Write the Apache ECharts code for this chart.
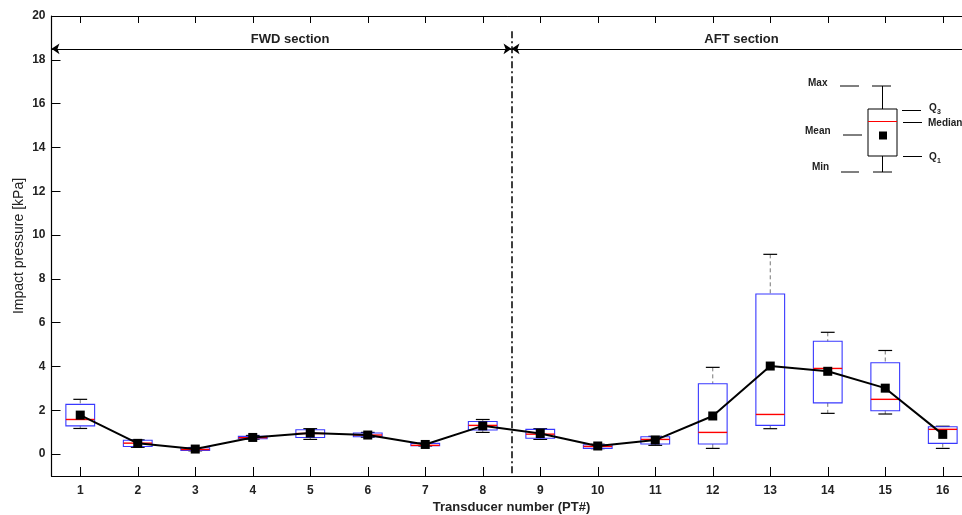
<!DOCTYPE html>
<html>
<head>
<meta charset="utf-8">
<script src="https://cdn.jsdelivr.net/npm/echarts@6/dist/echarts.min.js"></script>
<style>
  html, body { margin: 0; padding: 0; background: #fff; }
  #chart { width: 962px; height: 515px; }
</style>
</head>
<body>
<div id="chart"></div>
<script>
// Transducer positions (PT#)
const transducers = [1, 2, 3, 4, 5, 6, 7, 8, 9, 10, 11, 12, 13, 14, 15, 16];
// Impact pressure statistics per transducer [kPa]
const minVals    = [1.17, 0.31, 0.15, 0.68, 0.67, 0.77, 0.37, 0.99, 0.67, 0.25, 0.40, 0.26, 1.16, 1.86, 1.83, 0.26];
const q1Vals     = [1.29, 0.35, 0.17, 0.70, 0.76, 0.79, 0.38, 1.10, 0.72, 0.26, 0.46, 0.46, 1.31, 2.34, 1.98, 0.49];
const medianVals = [1.58, 0.50, 0.21, 0.75, 0.94, 0.87, 0.40, 1.31, 0.91, 0.35, 0.67, 0.99, 1.81, 3.91, 2.50, 1.13];
const q3Vals     = [2.27, 0.63, 0.29, 0.81, 1.11, 0.96, 0.49, 1.49, 1.13, 0.43, 0.79, 3.21, 7.31, 5.15, 4.17, 1.25];
const maxVals    = [2.50, 0.65, 0.30, 0.85, 1.16, 0.99, 0.50, 1.58, 1.16, 0.45, 0.81, 3.96, 9.12, 5.56, 4.73, 1.27];
const meanVals   = [1.78, 0.49, 0.23, 0.76, 0.96, 0.87, 0.44, 1.29, 0.94, 0.37, 0.64, 1.74, 4.02, 3.78, 3.01, 0.90];

// Axis tick labels
const xTicks = [1, 2, 3, 4, 5, 6, 7, 8, 9, 10, 11, 12, 13, 14, 15, 16];
const yTicks = [0, 2, 4, 6, 8, 10, 12, 14, 16, 18, 20];

// Section divider and labels
const sectionBoundary = 8.5;
const sectionArrowLevel = 18.5;
const sectionLabels = [
  { name: 'FWD section', x: 4.65, y: 18.95 },
  { name: 'AFT section', x: 12.5, y: 18.95 }
];

const FONT = '"Liberation Sans", Arial, sans-serif';
const TXT = '#222';

const boxData = transducers.map((t, i) => [t, minVals[i], q1Vals[i], medianVals[i], q3Vals[i], maxVals[i]]);
const meanData = transducers.map((t, i) => [t, meanVals[i]]);

function renderBox(params, api) {
  const x = api.value(0);
  const pMin = api.coord([x, api.value(1)]);
  const pQ1 = api.coord([x, api.value(2)]);
  const pMed = api.coord([x, api.value(3)]);
  const pQ3 = api.coord([x, api.value(4)]);
  const pMax = api.coord([x, api.value(5)]);
  const half = api.size([0.5, 0])[0] / 2;
  const cap = api.size([0.24, 0])[0] / 2;
  const cx = pMed[0];
  const whisker = { stroke: '#777', lineWidth: 1, lineDash: [4, 3] };
  return {
    type: 'group',
    children: [
      { type: 'line', shape: { x1: cx, y1: pMax[1], x2: cx, y2: pQ3[1] }, style: whisker },
      { type: 'line', shape: { x1: cx, y1: pQ1[1], x2: cx, y2: pMin[1] }, style: whisker },
      { type: 'line', shape: { x1: cx - cap, y1: pMax[1], x2: cx + cap, y2: pMax[1] }, style: { stroke: '#000', lineWidth: 1.2 } },
      { type: 'line', shape: { x1: cx - cap, y1: pMin[1], x2: cx + cap, y2: pMin[1] }, style: { stroke: '#000', lineWidth: 1.2 } },
      { type: 'rect', shape: { x: cx - half, y: pQ3[1], width: half * 2, height: pQ1[1] - pQ3[1] },
        style: { fill: 'none', stroke: '#3838ff', lineWidth: 1.1 } },
      { type: 'line', shape: { x1: cx - half, y1: pMed[1], x2: cx + half, y2: pMed[1] }, style: { stroke: '#ff0000', lineWidth: 1.4 } }
    ]
  };
}

// Key explaining the box symbol (top right)
function keyText(text, x, y, align, size) {
  return { type: 'text', x: x, y: y, style: { text: text, fill: TXT, font: 'bold ' + (size || 10) + 'px ' + FONT, align: align || 'left', verticalAlign: 'middle' } };
}
function keyLine(x1, y1, x2, y2, color) {
  return { type: 'line', shape: { x1, y1, x2, y2 }, style: { stroke: color || '#000', lineWidth: 1 } };
}
const keyGraphic = [
  keyLine(882.5, 86, 882.5, 109),
  keyLine(882.5, 156, 882.5, 172),
  keyLine(872, 86, 891, 86),
  keyLine(873, 172, 892, 172),
  { type: 'rect', shape: { x: 868, y: 109, width: 29, height: 47 }, style: { fill: 'none', stroke: '#000', lineWidth: 1 } },
  keyLine(868, 121.5, 897, 121.5, '#ff0000'),
  { type: 'rect', shape: { x: 879, y: 131.5, width: 8, height: 8 }, style: { fill: '#000' } },
  keyLine(840, 86, 859, 86),
  keyLine(843, 135, 862, 135),
  keyLine(841, 172, 859, 172),
  keyLine(902, 110.5, 921, 110.5),
  keyLine(903, 122.5, 922, 122.5),
  keyLine(903, 156.5, 922, 156.5),
  keyText('Max', 808, 83),
  keyText('Mean', 805, 131),
  keyText('Min', 812, 167),
  keyText('Q', 929, 108),
  keyText('3', 937, 112, 'left', 7),
  keyText('Median', 928, 123),
  keyText('Q', 929, 157),
  keyText('1', 937, 161, 'left', 7)
];

const chart = echarts.init(document.getElementById('chart'), null, { renderer: 'canvas' });

chart.setOption({
  animation: false,
  backgroundColor: '#fff',
  grid: { left: 51.5, top: 16, width: 920, height: 460, containLabel: false, outerBoundsMode: 'none' },
  xAxis: [
    {
      type: 'value', min: 0.5, max: 16.5, position: 'bottom',
      name: 'Transducer number (PT#)', nameLocation: 'middle', nameGap: 25, nameMoveOverlap: false,
      nameTextStyle: { fontFamily: FONT, fontWeight: 'bold', fontSize: 13, color: TXT },
      axisLine: { show: true, onZero: false, lineStyle: { color: '#000', width: 1.2 } },
      axisTick: { show: true, inside: true, length: 9, customValues: xTicks, lineStyle: { color: '#000' } },
      axisLabel: { show: true, customValues: xTicks, margin: 9, fontFamily: FONT, fontWeight: 'bold', fontSize: 12, color: TXT },
      splitLine: { show: false }
    },
    {
      type: 'value', min: 0.5, max: 16.5, position: 'top',
      axisLine: { show: true, onZero: false, lineStyle: { color: '#000', width: 1 } },
      axisTick: { show: true, inside: true, length: 7, customValues: xTicks, lineStyle: { color: '#000' } },
      axisLabel: { show: false },
      splitLine: { show: false }
    }
  ],
  yAxis: {
    type: 'value', min: -1, max: 20,
    name: 'Impact pressure [kPa]', nameLocation: 'middle', nameGap: 25, nameMoveOverlap: false,
    nameTextStyle: { fontFamily: FONT, fontWeight: 'normal', fontSize: 14, color: TXT },
    axisLine: { show: true, onZero: false, lineStyle: { color: '#000', width: 1.2 } },
    axisTick: { show: true, inside: true, length: 9, customValues: yTicks, lineStyle: { color: '#000' } },
    axisLabel: { show: true, customValues: yTicks, margin: 6, fontFamily: FONT, fontWeight: 'bold', fontSize: 12, color: TXT },
    splitLine: { show: false }
  },
  series: [
    {
      type: 'custom',
      name: 'Pressure distribution',
      renderItem: renderBox,
      data: boxData,
      encode: { x: 0, y: [1, 2, 3, 4, 5] },
      z: 2
    },
    {
      type: 'line',
      name: 'Mean',
      data: meanData,
      symbol: 'rect',
      symbolSize: 9,
      lineStyle: { color: '#000', width: 2 },
      itemStyle: { color: '#000' },
      z: 3,
      markLine: {
        silent: true,
        label: { show: false },
        lineStyle: { color: '#000', width: 1, type: 'solid' },
        symbolSize: 8,
        data: [
          [{ coord: [0.5, sectionArrowLevel], symbol: 'arrow' }, { coord: [sectionBoundary, sectionArrowLevel], symbol: 'arrow' }],
          [{ coord: [sectionBoundary, sectionArrowLevel], symbol: 'arrow' }, { coord: [16.5, sectionArrowLevel], symbol: 'none' }],
          [{ coord: [sectionBoundary, 19.3], symbol: 'none', lineStyle: { type: [7, 3, 2, 3], width: 1.5 } },
           { coord: [sectionBoundary, -1], symbol: 'none' }]
        ]
      },
      markPoint: {
        silent: true,
        symbol: 'circle',
        symbolSize: 0,
        label: { show: true, position: 'inside', formatter: p => p.name, fontFamily: FONT, fontWeight: 'bold', fontSize: 13, color: TXT },
        data: sectionLabels.map(s => ({ name: s.name, coord: [s.x, s.y] }))
      }
    }
  ],
  graphic: keyGraphic
});
</script>
</body>
</html>
